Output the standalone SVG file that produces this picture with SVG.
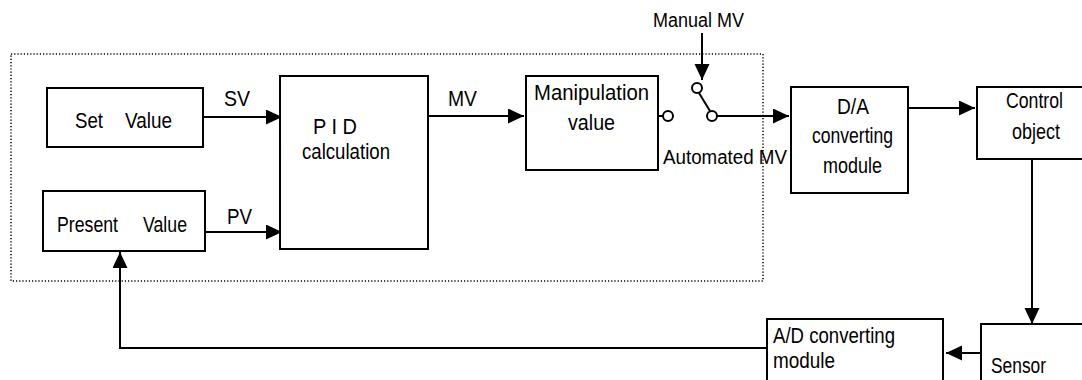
<svg xmlns="http://www.w3.org/2000/svg" width="1082" height="380" viewBox="0 0 1082 380">
<style>
.box{fill:#fff;stroke:#000;stroke-width:2}
.ln{fill:none;stroke:#000;stroke-width:2}
.arr{fill:none;stroke:#000;stroke-width:2;marker-end:url(#ah)}
.t{font-family:"Liberation Sans",Arial,sans-serif;font-size:22px;fill:#000}
.s{font-family:"Liberation Sans",Arial,sans-serif;font-size:20px;fill:#000}
.dot{fill:none;stroke:#000;stroke-width:1.5;stroke-dasharray:1.2 2}
.c{fill:#fff;stroke:#000;stroke-width:2}
</style>
<defs>
<marker id="ah" markerUnits="userSpaceOnUse" markerWidth="17" markerHeight="16" refX="16" refY="7.5" orient="auto">
<path d="M0,0 L16,7.5 L0,15 Z" fill="#000"/>
</marker>
</defs>
<rect width="1082" height="380" fill="#fff"/>
<rect id="boundary" class="dot" x="11" y="54" width="752" height="227"/>
<g id="connectors">
<path class="arr" d="M200,117 H282"/>
<path class="arr" d="M200,232 H282"/>
<path class="arr" d="M428,116 H524"/>
<path class="ln" d="M654,116 H663"/>
<path class="arr" d="M702,33 V80"/>
<path class="ln" d="M699,93 L710,111"/>
<path class="arr" d="M717,116 H789"/>
<path class="arr" d="M904,108 H975"/>
<path class="arr" d="M1032,152 V324"/>
<path class="arr" d="M981,353 H946"/>
<path class="arr" d="M767,348 H120 V252"/>
</g>
<g id="set-value">
<rect class="box" x="47" y="88" width="156" height="59"/>
<text class="t" x="75" y="128" textLength="28" lengthAdjust="spacingAndGlyphs">Set</text>
<text class="t" x="125" y="128" textLength="47" lengthAdjust="spacingAndGlyphs">Value</text>
</g>
<g id="present-value">
<rect class="box" x="43" y="191" width="162" height="60"/>
<text class="t" x="57" y="232" textLength="61" lengthAdjust="spacingAndGlyphs">Present</text>
<text class="t" x="143" y="232" textLength="44" lengthAdjust="spacingAndGlyphs">Value</text>
</g>
<g id="labels">
<text class="t" x="224" y="106" textLength="26" lengthAdjust="spacingAndGlyphs">SV</text>
<text class="t" x="227" y="224" textLength="25" lengthAdjust="spacingAndGlyphs">PV</text>
<text class="t" x="448" y="106" textLength="29" lengthAdjust="spacingAndGlyphs">MV</text>
<text class="s" x="653" y="27" textLength="91" lengthAdjust="spacingAndGlyphs">Manual MV</text>
<text class="s" x="663" y="164" textLength="124" lengthAdjust="spacingAndGlyphs">Automated MV</text>
</g>
<g id="pid">
<rect class="box" x="280" y="76" width="148" height="173"/>
<text class="t" x="313" y="134" textLength="44" lengthAdjust="spacingAndGlyphs">P I D</text>
<text class="t" x="302" y="159" textLength="88" lengthAdjust="spacingAndGlyphs">calculation</text>
</g>
<g id="manipulation">
<rect class="box" x="526" y="76" width="132" height="94"/>
<text class="t" x="534" y="100" textLength="115" lengthAdjust="spacingAndGlyphs">Manipulation</text>
<text class="t" x="568" y="130" textLength="47" lengthAdjust="spacingAndGlyphs">value</text>
</g>
<g id="switch">
<circle class="c" cx="668" cy="116" r="5"/>
<circle class="c" cx="697" cy="88" r="5"/>
<circle class="c" cx="712" cy="116" r="5"/>
</g>
<g id="da">
<rect class="box" x="791" y="87" width="117" height="106"/>
<text class="t" x="837" y="114" textLength="32" lengthAdjust="spacingAndGlyphs">D/A</text>
<text class="t" x="812" y="143" textLength="81" lengthAdjust="spacingAndGlyphs">converting</text>
<text class="t" x="823" y="173" textLength="59" lengthAdjust="spacingAndGlyphs">module</text>
</g>
<g id="control">
<rect class="box" x="977" y="87" width="110" height="72"/>
<text class="t" x="1006" y="108" textLength="57" lengthAdjust="spacingAndGlyphs">Control</text>
<text class="t" x="1012" y="139" textLength="48" lengthAdjust="spacingAndGlyphs">object</text>
</g>
<g id="sensor">
<rect class="box" x="981" y="324" width="110" height="70"/>
<text class="t" x="991" y="373" textLength="55" lengthAdjust="spacingAndGlyphs">Sensor</text>
</g>
<g id="ad">
<rect class="box" x="767" y="319" width="176" height="75"/>
<text class="t" x="773" y="343" textLength="122" lengthAdjust="spacingAndGlyphs">A/D converting</text>
<text class="t" x="773" y="368" textLength="62" lengthAdjust="spacingAndGlyphs">module</text>
</g>
</svg>
